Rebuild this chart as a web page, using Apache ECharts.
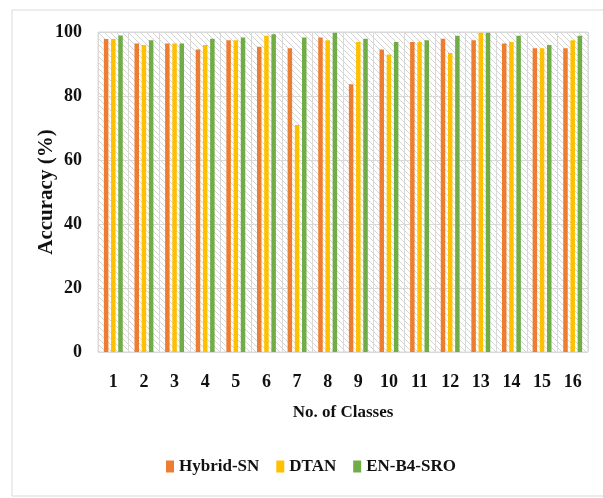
<!DOCTYPE html>
<html><head><meta charset="utf-8">
<script src="https://cdn.jsdelivr.net/npm/echarts@6/dist/echarts.min.js"></script>
<style>html,body{margin:0;padding:0;background:#fff}#c{width:603px;height:498px}</style>
</head><body><div id="c"></div>
<script>
const categories = ['1','2','3','4','5','6','7','8','9','10','11','12','13','14','15','16'];
const hybridSN = [97.8,96.4,96.4,94.5,97.4,95.4,94.9,98.3,83.7,94.5,96.9,97.9,97.4,96.4,94.9,94.9];
const dtan     = [97.8,95.9,96.4,95.9,97.4,98.8,70.9,97.4,96.9,93.0,96.9,93.4,99.8,96.9,94.9,97.4];
const enB4SRO  = [98.9,97.4,96.4,97.9,98.3,99.3,98.3,99.8,97.9,96.9,97.4,98.8,99.8,98.8,95.9,98.8];
const yTicks = [0,20,40,60,80,100];

const pc = document.createElement('canvas');
pc.width = 6; pc.height = 6;
const g = pc.getContext('2d');
g.fillStyle = '#ffffff'; g.fillRect(0,0,6,6);
g.strokeStyle = '#d4d4d4'; g.lineWidth = 1;
g.beginPath();
for (let k = -6; k <= 12; k += 6) { g.moveTo(k, 0); g.lineTo(k + 6, 6); }
g.stroke();

const font = 'Liberation Serif';
const chart = echarts.init(document.getElementById('c'));
const mk = (name, data, color) => ({
  name, type: 'bar', data, barWidth: 4.5, barGap: '60%',
  itemStyle: { color }
});
chart.setOption({
  animation: false,
  textStyle: { fontFamily: font },
  graphic: [{ type: 'rect', shape: { x: 12, y: 10, width: 600, height: 486 },
    style: { fill: 'none', stroke: '#d9d9d9', lineWidth: 1 }, silent: true }],
  grid: { left: 98, right: 15, top: 32, bottom: 146, show: true,
    backgroundColor: { image: pc, repeat: 'repeat' }, borderColor: '#d9d9d9', borderWidth: 1 },
  legend: {
    data: ['Hybrid-SN','DTAN','EN-B4-SRO'], bottom: 18, left: 161,
    icon: 'rect', itemWidth: 8, itemHeight: 12, itemGap: 17,
    textStyle: { fontFamily: font, fontWeight: 'bold', fontSize: 17, color: '#111' }
  },
  xAxis: {
    type: 'category', data: categories,
    name: 'No. of Classes', nameLocation: 'middle', nameGap: 52, nameMoveOverlap: false,
    nameTextStyle: { fontFamily: font, fontWeight: 'bold', fontSize: 17, color: '#111' },
    axisLine: { show: false }, axisTick: { show: false },
    axisLabel: { fontFamily: font, fontWeight: 'bold', fontSize: 18, color: '#111', margin: 21 },
    splitLine: { show: true, lineStyle: { color: '#d9d9d9', width: 1 } }
  },
  yAxis: {
    type: 'value', min: 0, max: 100, interval: 20,
    name: 'Accuracy (%)', nameLocation: 'middle', nameGap: 41, nameMoveOverlap: false,
    nameTextStyle: { fontFamily: font, fontWeight: 'bold', fontSize: 21, color: '#111' },
    axisLine: { show: false }, axisTick: { show: false },
    axisLabel: { fontFamily: font, fontWeight: 'bold', fontSize: 18, color: '#111', margin: 16,
      formatter: v => yTicks.includes(v) ? String(v) : '' },
    splitLine: { show: true, lineStyle: { color: '#d9d9d9', width: 1 } }
  },
  series: [
    mk('Hybrid-SN', hybridSN, '#ED7D31'),
    mk('DTAN', dtan, '#FFC000'),
    mk('EN-B4-SRO', enB4SRO, '#70AD47')
  ]
});
</script></body></html>
